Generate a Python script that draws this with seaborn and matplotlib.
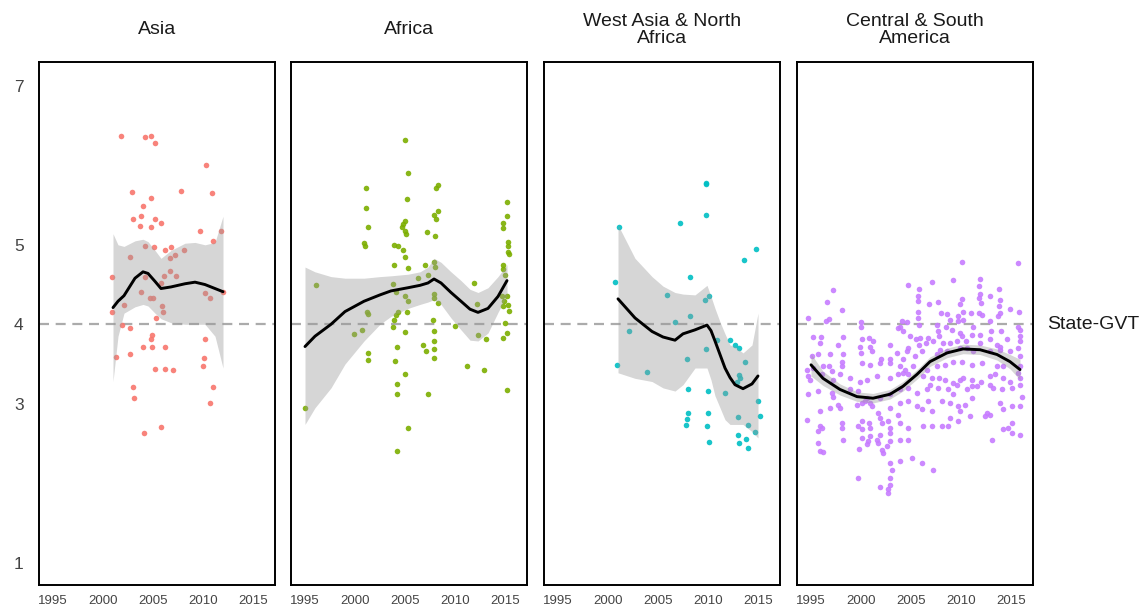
import pandas as pd
import seaborn as sns
import matplotlib.pyplot as plt
import matplotlib.transforms as mtransforms

# facets and colours
regions = ["Asia", "Africa", "West Asia & North\nAfrica", "Central & South\nAmerica"]
colors = ["#F8766D", "#7CAE00", "#00BFC4", "#C77CFF"]
x_ticks = [1995, 2000, 2005, 2010, 2015]
y_ticks = [1, 3, 4, 5, 7]
ref_value = 4
ref_label = "State-GVT"

# (year, score) points
asia_pts = [
    (2001.8, 6.37), (2004.2, 6.36), (2004.8, 6.37), (2005.2, 6.28), (2010.3, 6.00),
    (2002.9, 5.66), (2007.8, 5.68), (2010.9, 5.65), (2004.8, 5.59), (2004.0, 5.49),
    (2003.8, 5.36), (2003.0, 5.32), (2005.2, 5.33), (2003.7, 5.24), (2004.8, 5.22),
    (2005.8, 5.28), (2009.7, 5.17), (2011.8, 5.18), (2011.0, 5.05), (2004.2, 4.99),
    (2005.1, 4.97), (2006.8, 4.97), (2006.2, 4.93), (2008.1, 4.94), (2002.7, 4.85),
    (2007.2, 4.87), (2006.7, 4.84), (2000.9, 4.60), (2004.2, 4.59), (2006.1, 4.61),
    (2006.7, 4.67), (2007.3, 4.61), (2003.8, 4.41), (2010.2, 4.39), (2005.8, 4.52),
    (2004.7, 4.33), (2005.0, 4.33), (2010.7, 4.33), (2002.1, 4.24), (2005.9, 4.23),
    (2000.9, 4.15), (2006.0, 4.15), (2005.3, 4.08), (2001.9, 3.99), (2002.7, 3.95),
    (2010.2, 3.81), (2004.9, 3.86), (2004.8, 3.82), (2004.0, 3.71), (2004.9, 3.71),
    (2006.2, 3.71), (2001.3, 3.59), (2002.7, 3.62), (2010.1, 3.58), (2010.0, 3.47),
    (2005.2, 3.44), (2006.2, 3.44), (2007.0, 3.42), (2003.0, 3.21), (2011.0, 3.21),
    (2003.1, 3.07), (2010.7, 3.01), (2005.8, 2.71), (2004.1, 2.63), (2012.0, 4.41),
]

africa_pts = [
    (2005.0, 6.32), (2005.3, 5.90), (2001.1, 5.71), (2008.1, 5.72), (2008.3, 5.75),
    (2005.2, 5.58), (2001.1, 5.46), (2015.2, 5.54), (2001.3, 5.23), (2008.3, 5.43),
    (2007.9, 5.38), (2008.1, 5.32), (2015.2, 5.36), (2005.0, 5.30), (2004.8, 5.26),
    (2004.7, 5.23), (2005.0, 5.17), (2005.1, 5.14), (2007.2, 5.16), (2014.8, 5.28),
    (2014.8, 5.21), (2008.0, 5.11), (2000.9, 5.02), (2001.0, 4.99), (2003.9, 5.00),
    (2004.3, 4.99), (2015.3, 5.04), (2015.3, 4.98), (2015.3, 4.91), (2015.4, 4.88),
    (2004.8, 4.93), (2005.0, 4.85), (2003.9, 4.75), (2005.3, 4.71), (2007.0, 4.74),
    (2007.9, 4.78), (2008.0, 4.72), (2014.8, 4.74), (2014.8, 4.69), (2015.0, 4.62),
    (2007.3, 4.62), (2006.3, 4.58), (2003.8, 4.51), (1996.1, 4.50), (2011.9, 4.52),
    (2004.1, 4.41), (2005.0, 4.36), (2007.9, 4.38), (2007.9, 4.33), (2005.3, 4.29),
    (2008.3, 4.27), (2014.7, 4.36), (2015.2, 4.35), (2014.9, 4.29), (2014.8, 4.23),
    (2001.2, 4.16), (2001.3, 4.13), (2012.2, 4.26), (2015.3, 4.24), (2015.4, 4.17),
    (2004.3, 4.16), (2004.1, 4.12), (2005.2, 4.15), (2003.9, 4.05), (2003.8, 3.97),
    (2007.8, 4.05), (2015.0, 4.02), (2010.0, 3.98), (1999.9, 3.88), (2000.7, 3.93),
    (2005.0, 3.90), (2007.9, 3.91), (2012.3, 3.86), (2013.1, 3.82), (2014.8, 3.83),
    (2015.2, 3.89), (2006.8, 3.74), (2007.1, 3.67), (2004.2, 3.71), (2007.9, 3.79),
    (2007.9, 3.69), (2007.9, 3.58), (2001.3, 3.64), (2001.3, 3.55), (2004.0, 3.54),
    (2005.0, 3.38), (2011.2, 3.48), (2012.9, 3.43), (2004.2, 3.25), (2004.2, 3.12),
    (2007.3, 3.12), (2015.2, 3.17), (1995.0, 2.95), (2005.3, 2.69), (2004.2, 2.41),
]

wana_pts = [
    (2009.8, 5.78), (2009.8, 5.76), (2009.8, 5.37), (2007.2, 5.27), (2001.1, 5.22),
    (2014.8, 4.95), (2013.6, 4.81), (2008.2, 4.59), (2000.7, 4.53), (2005.9, 4.37),
    (2010.1, 4.36), (2009.7, 4.30), (2008.2, 4.11), (2006.7, 4.03), (2002.1, 3.91),
    (2010.9, 3.80), (2012.2, 3.80), (2012.7, 3.74), (2013.1, 3.70), (2009.8, 3.69),
    (2007.9, 3.56), (2013.7, 3.52), (2000.9, 3.49), (2003.9, 3.40), (2013.1, 3.36),
    (2013.2, 3.32), (2012.9, 3.28), (2008.0, 3.19), (2010.0, 3.16), (2011.7, 3.13),
    (2015.0, 3.04), (2008.0, 2.88), (2010.0, 2.88), (2007.9, 2.81), (2007.8, 2.73),
    (2009.9, 2.72), (2015.2, 2.85), (2013.0, 2.83), (2014.0, 2.73), (2014.7, 2.65),
    (2013.0, 2.61), (2013.8, 2.56), (2010.1, 2.52), (2013.1, 2.51), (2014.0, 2.44),
]

csa_pts = [
    (2010.1, 4.78), (2015.7, 4.77), (2009.2, 4.56), (2011.9, 4.57), (2007.1, 4.53),
    (2004.7, 4.49), (1997.2, 4.43), (2005.8, 4.44), (2011.8, 4.48), (2013.8, 4.44),
    (2012.9, 4.36), (2011.9, 4.38), (2011.8, 4.33), (2012.0, 4.27), (2013.9, 4.31),
    (1996.6, 4.28), (2005.7, 4.36), (2005.7, 4.29), (2007.7, 4.28), (2006.8, 4.25),
    (2010.1, 4.32), (2009.9, 4.25), (1998.1, 4.18), (2005.7, 4.16), (2008.0, 4.14),
    (2008.6, 4.13), (2010.2, 4.16), (2009.7, 4.11), (2011.0, 4.14), (2011.8, 4.14),
    (2012.1, 4.12), (2013.8, 4.23), (2013.9, 4.14), (2013.7, 4.10), (2014.9, 4.19),
    (2015.8, 4.15), (1994.7, 4.08), (1996.8, 4.07), (1996.5, 4.04), (2000.0, 4.03),
    (2004.1, 4.04), (2004.6, 4.03), (2005.7, 4.08), (2003.9, 3.97), (2008.9, 4.06),
    (2009.7, 4.04), (2010.2, 4.06), (2005.8, 3.99), (2007.6, 3.99), (2008.5, 3.96),
    (2009.1, 3.93), (2011.2, 3.97), (2012.9, 4.04), (2015.7, 3.97), (2015.9, 3.93),
    (2013.0, 3.92), (2014.0, 3.92), (2000.0, 3.96), (2003.7, 3.95), (2004.2, 3.92),
    (2007.7, 3.92), (2007.8, 3.85), (2009.9, 3.89), (2010.1, 3.85), (2011.1, 3.87),
    (2011.9, 3.87), (2015.9, 3.85), (1995.2, 3.84), (1996.0, 3.84), (1998.2, 3.84),
    (2000.1, 3.82), (2000.8, 3.83), (2001.2, 3.79), (2004.9, 3.85), (2005.5, 3.81),
    (2005.9, 3.83), (2006.7, 3.83), (2009.6, 3.79), (2010.5, 3.79), (2012.9, 3.81),
    (2014.6, 3.81), (2015.9, 3.79), (1995.9, 3.77), (1997.7, 3.74), (1999.9, 3.72),
    (2000.9, 3.71), (2002.9, 3.74), (2004.7, 3.70), (2005.8, 3.74), (2006.5, 3.77),
    (2007.2, 3.79), (2008.2, 3.77), (2008.9, 3.77), (2011.9, 3.77), (2013.6, 3.74),
    (2013.9, 3.71), (2015.7, 3.70), (1995.1, 3.60), (1995.7, 3.62), (1996.9, 3.62),
    (1998.2, 3.62), (2000.0, 3.64), (2001.1, 3.66), (2002.0, 3.56), (2002.9, 3.56),
    (2003.6, 3.64), (2004.2, 3.56), (2004.6, 3.66), (2005.4, 3.60), (2006.1, 3.66),
    (2007.6, 3.62), (2007.9, 3.68), (2008.6, 3.66), (2009.9, 3.70), (2010.6, 3.70),
    (2011.2, 3.66), (2012.9, 3.66), (2013.9, 3.68), (2014.9, 3.67), (2015.9, 3.60),
    (1994.6, 3.43), (1995.2, 3.45), (1996.2, 3.47), (1996.8, 3.47), (1997.1, 3.41),
    (1998.1, 3.47), (1998.1, 3.53), (2000.1, 3.51), (2000.9, 3.49), (2001.9, 3.51),
    (2002.9, 3.51), (2003.9, 3.47), (2004.4, 3.43), (2005.2, 3.47), (2006.6, 3.43),
    (2007.6, 3.47), (2008.4, 3.49), (2009.2, 3.53), (2010.1, 3.53), (2011.1, 3.49),
    (2012.1, 3.51), (2013.6, 3.48), (2014.2, 3.47), (2015.7, 3.39), (2015.9, 3.47),
    (1994.7, 3.35), (1994.9, 3.30), (1996.1, 3.37), (1997.2, 3.30), (1997.9, 3.37),
    (1998.9, 3.32), (1999.9, 3.28), (2000.6, 3.30), (2001.6, 3.35), (2002.9, 3.32),
    (2003.7, 3.37), (2004.2, 3.39), (2004.7, 3.37), (2006.2, 3.35), (2007.1, 3.32),
    (2007.8, 3.32), (2008.4, 3.30), (2009.2, 3.26), (2009.9, 3.30), (2010.2, 3.32),
    (2011.1, 3.30), (2012.0, 3.28), (2012.9, 3.35), (2013.4, 3.37), (2014.2, 3.32),
    (2014.9, 3.28), (2015.9, 3.32), (1994.7, 3.12), (1995.7, 3.16), (1997.1, 3.14),
    (1997.2, 3.09), (1998.9, 3.18), (1999.7, 3.16), (2000.6, 3.07), (2000.9, 3.01),
    (2001.9, 3.07), (2002.9, 3.12), (2003.9, 3.18), (2004.7, 3.20), (2005.6, 3.14),
    (2006.6, 3.18), (2006.9, 3.24), (2007.7, 3.20), (2008.7, 3.18), (2009.2, 3.12),
    (2009.6, 3.24), (2010.6, 3.18), (2011.1, 3.22), (2011.6, 3.22), (2012.9, 3.24),
    (2013.2, 3.20), (2014.1, 3.18), (2015.1, 3.20), (2015.9, 3.24), (2016.1, 3.09),
    (1995.9, 2.91), (1996.9, 2.95), (1997.7, 2.99), (1997.9, 2.95), (1999.6, 2.99),
    (2000.1, 3.01), (2000.4, 3.03), (2001.1, 2.97), (2001.7, 2.88), (2002.9, 2.95),
    (2003.9, 3.01), (2004.7, 3.03), (2005.6, 2.97), (2006.1, 2.93), (2006.7, 3.03),
    (2007.1, 2.91), (2008.1, 3.03), (2008.9, 3.01), (2009.7, 2.97), (2009.9, 2.91),
    (2010.4, 2.99), (2011.1, 3.07), (2012.6, 2.88), (2012.9, 2.86), (2013.9, 3.01),
    (2014.2, 2.93), (2015.1, 2.97), (2015.9, 2.97), (1994.6, 2.80), (1995.9, 2.72),
    (1995.7, 2.66), (1996.1, 2.70), (1998.1, 2.76), (1998.1, 2.70), (1998.2, 2.55),
    (1999.7, 2.72), (2000.1, 2.78), (2000.1, 2.68), (2000.8, 2.76), (2000.9, 2.70),
    (2001.9, 2.82), (2002.1, 2.76), (2002.7, 2.78), (2002.9, 2.70), (2003.7, 2.86),
    (2003.9, 2.76), (2004.7, 2.70), (2006.2, 2.72), (2007.1, 2.72), (2008.1, 2.72),
    (2008.7, 2.72), (2008.9, 2.82), (2009.7, 2.78), (2010.9, 2.84), (2012.4, 2.84),
    (2014.2, 2.68), (2014.7, 2.70), (2015.1, 2.76), (2015.1, 2.63), (2015.9, 2.61),
    (2013.1, 2.55), (1995.7, 2.51), (1995.9, 2.40), (1996.2, 2.39), (1999.8, 2.43),
    (2000.1, 2.57), (2000.7, 2.53), (2000.9, 2.59), (2001.6, 2.55), (2001.7, 2.51),
    (2001.9, 2.61), (2002.2, 2.38), (2002.6, 2.47), (2002.9, 2.63), (2002.9, 2.53),
    (2003.9, 2.55), (2004.7, 2.55), (2000.6, 2.49), (2002.1, 2.42), (2002.9, 2.26),
    (2003.9, 2.28), (2003.1, 2.17), (2005.1, 2.32), (2006.1, 2.26), (2007.2, 2.17),
    (2002.9, 2.07), (1999.7, 2.06), (2001.9, 1.95), (2002.7, 1.93), (2002.9, 1.98),
    (2002.7, 1.88),
]

# smoothed trend and its confidence band
asia_fit_x = [2001.0, 2001.5, 2002.1, 2003.2, 2004.0, 2004.5, 2005.2, 2005.8, 2006.8, 2008.2, 2009.2, 2010.2, 2011.2, 2012.0]
asia_fit_y = [4.21, 4.29, 4.36, 4.58, 4.66, 4.64, 4.54, 4.45, 4.47, 4.51, 4.53, 4.50, 4.45, 4.41]
asia_fit_hi = [5.14, 5.00, 4.98, 5.05, 5.07, 5.04, 4.93, 4.83, 4.93, 5.02, 5.03, 5.00, 5.03, 5.36]
asia_fit_lo = [3.28, 3.85, 4.14, 4.22, 4.25, 4.23, 4.14, 4.07, 4.02, 4.00, 4.00, 4.00, 3.85, 3.45]

africa_fit_x = [1995.0, 1996.0, 1997.6, 1999.0, 2000.9, 2002.5, 2003.6, 2005.3, 2006.5, 2007.3, 2007.9, 2008.6, 2009.6, 2010.6, 2011.5, 2012.3, 2013.3, 2014.3, 2015.2]
africa_fit_y = [3.72, 3.85, 4.00, 4.16, 4.29, 4.37, 4.42, 4.46, 4.49, 4.52, 4.57, 4.52, 4.40, 4.29, 4.19, 4.15, 4.20, 4.35, 4.55]
africa_fit_hi = [4.72, 4.66, 4.60, 4.58, 4.58, 4.60, 4.61, 4.63, 4.66, 4.72, 4.83, 4.78, 4.66, 4.55, 4.44, 4.40, 4.46, 4.60, 4.75]
africa_fit_lo = [2.74, 2.95, 3.20, 3.50, 3.79, 4.00, 4.10, 4.20, 4.25, 4.28, 4.31, 4.25, 4.08, 3.93, 3.80, 3.79, 3.89, 4.15, 4.37]

wana_fit_x = [2001.0, 2002.7, 2004.4, 2005.5, 2006.7, 2007.5, 2008.7, 2009.9, 2010.3, 2010.7, 2011.2, 2011.7, 2012.2, 2012.7, 2013.5, 2014.4, 2015.0]
wana_fit_y = [4.32, 4.08, 3.91, 3.84, 3.80, 3.88, 3.93, 3.99, 3.92, 3.79, 3.62, 3.45, 3.33, 3.24, 3.19, 3.25, 3.35]
wana_fit_hi = [5.25, 4.83, 4.60, 4.48, 4.40, 4.38, 4.37, 4.49, 4.35, 4.20, 4.03, 3.88, 3.74, 3.72, 3.64, 3.74, 4.14]
wana_fit_lo = [3.39, 3.32, 3.28, 3.20, 3.16, 3.24, 3.45, 3.45, 3.30, 3.10, 2.95, 2.80, 2.74, 2.74, 2.74, 2.65, 2.57]

csa_fit_x = [1995.0, 1996.2, 1997.9, 1999.6, 2001.2, 2002.9, 2004.2, 2005.6, 2006.9, 2008.6, 2010.2, 2011.9, 2013.6, 2014.9, 2015.9]
csa_fit_y = [3.49, 3.32, 3.18, 3.09, 3.07, 3.12, 3.22, 3.37, 3.53, 3.64, 3.69, 3.68, 3.62, 3.53, 3.43]
csa_fit_hi = [3.63, 3.41, 3.25, 3.15, 3.13, 3.18, 3.28, 3.43, 3.59, 3.70, 3.75, 3.74, 3.69, 3.62, 3.56]
csa_fit_lo = [3.35, 3.23, 3.11, 3.03, 3.01, 3.06, 3.16, 3.31, 3.47, 3.58, 3.63, 3.62, 3.55, 3.44, 3.30]

points = [asia_pts, africa_pts, wana_pts, csa_pts]
fits = [
    (asia_fit_x, asia_fit_y, asia_fit_lo, asia_fit_hi),
    (africa_fit_x, africa_fit_y, africa_fit_lo, africa_fit_hi),
    (wana_fit_x, wana_fit_y, wana_fit_lo, wana_fit_hi),
    (csa_fit_x, csa_fit_y, csa_fit_lo, csa_fit_hi),
]

sns.set_theme(style="white")
plt.rcParams["font.family"] = ["Liberation Sans", "DejaVu Sans"]

W, H = 1144, 612
fig, axes = plt.subplots(1, 4, figsize=(W / 100, H / 100), dpi=100)

panel_left = [39, 291, 544, 797]
panel_w, panel_top, panel_bot = 236, 62, 585

for i, ax in enumerate(axes):
    ax.set_position([panel_left[i] / W, (H - panel_bot) / H, panel_w / W, (panel_bot - panel_top) / H])

    df = pd.DataFrame(points[i], columns=["year", "score"])
    ax.axhline(ref_value, color="#ababab", lw=1.6, ls=(0, (4.5, 3)), zorder=1)
    sns.scatterplot(data=df, x="year", y="score", color=colors[i], s=16,
                    linewidth=0, alpha=0.9, ax=ax, zorder=2)

    fx, fy, flo, fhi = fits[i]
    ax.fill_between(fx, flo, fhi, color="#999999", alpha=0.4, linewidth=0, zorder=3)
    ax.plot(fx, fy, color="black", lw=2.1, zorder=4)

    ax.set_xlim(1993.6, 2017.2)
    ax.set_ylim(0.72, 7.3)
    ax.set_xticks(x_ticks)
    ax.set_xlabel("")
    ax.set_ylabel("")
    ax.tick_params(axis="x", length=0, pad=7, labelsize=9.5, labelcolor="#444444")
    if i == 0:
        ax.set_yticks(y_ticks)
        ax.tick_params(axis="y", length=0, pad=11, labelsize=12.5, labelcolor="#444444")
    else:
        ax.set_yticks([])

    for sp in ax.spines.values():
        sp.set_visible(True)
        sp.set_color("black")
        sp.set_linewidth(1.4)

    cx = (panel_left[i] + panel_w / 2) / W
    fig.text(cx, 1 - 30 / H, regions[i], ha="center", va="center",
             fontsize=14, color="#1a1a1a", linespacing=0.95)

trans = mtransforms.blended_transform_factory(axes[3].transAxes, axes[3].transData)
axes[3].text(1 + 14 / panel_w, ref_value, ref_label, transform=trans, ha="left",
             va="center", fontsize=14, color="#1a1a1a", clip_on=False)

fig.savefig("out.png", dpi=100)
